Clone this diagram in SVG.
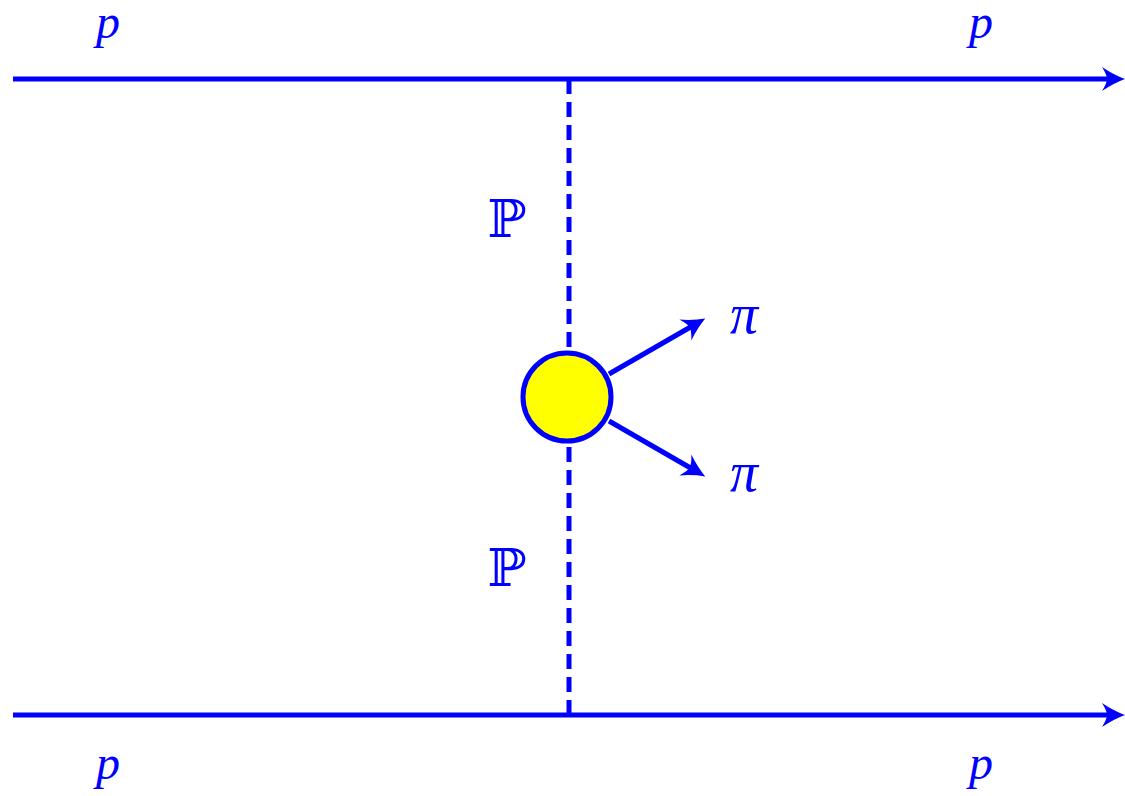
<svg xmlns="http://www.w3.org/2000/svg" width="1125" height="796" viewBox="0 0 1125 796">
<style>
.ln{stroke:#0000ff;stroke-width:5;fill:none}
.dash{stroke:#0000ff;stroke-width:5;fill:none;stroke-dasharray:15 8}
.lbl{fill:#0000ff;font-family:"Liberation Serif","DejaVu Serif",serif;font-style:italic;text-anchor:middle}
.bb{fill:#0000ff;font-family:"DejaVu Serif","DejaVu Sans",serif;text-anchor:middle}
</style>
<defs>
<marker id="arr" markerUnits="userSpaceOnUse" viewBox="-14 -14 30 28" markerWidth="30" markerHeight="28" refX="0" refY="0" orient="auto" overflow="visible">
<path d="M 13 0 Q 2 -4 -10 -12 Q -5 -4 -5 0 Q -5 4 -10 12 Q 2 4 13 0 Z" fill="#0000ff"/>
</marker>
</defs>
<g id="connectors">
<line class="ln" x1="13" y1="79" x2="1112" y2="79" marker-end="url(#arr)"/>
<line class="ln" x1="13" y1="715" x2="1112" y2="715" marker-end="url(#arr)"/>
<line class="dash" x1="569" y1="79" x2="569" y2="352"/>
<line class="dash" x1="569" y1="715" x2="569" y2="442"/>
<line class="ln" x1="609" y1="374" x2="694" y2="325" marker-end="url(#arr)"/>
<line class="ln" x1="609" y1="421" x2="694" y2="470" marker-end="url(#arr)"/>
</g>
<g id="blob">
<circle cx="567" cy="397" r="44" fill="#ffff00" stroke="#0000ff" stroke-width="5"/>
</g>
<g id="labels">
<text class="lbl" x="108" y="38" font-size="48">p</text>
<text class="lbl" x="981" y="38" font-size="48">p</text>
<text class="lbl" x="108" y="779" font-size="48">p</text>
<text class="lbl" x="981" y="779" font-size="48">p</text>
<text class="bb" x="507" y="237" font-size="52">ℙ</text>
<text class="bb" x="507" y="586" font-size="52">ℙ</text>
<text class="lbl" x="744" y="333" font-size="56">π</text>
<text class="lbl" x="744" y="491" font-size="56">π</text>
</g>
</svg>
